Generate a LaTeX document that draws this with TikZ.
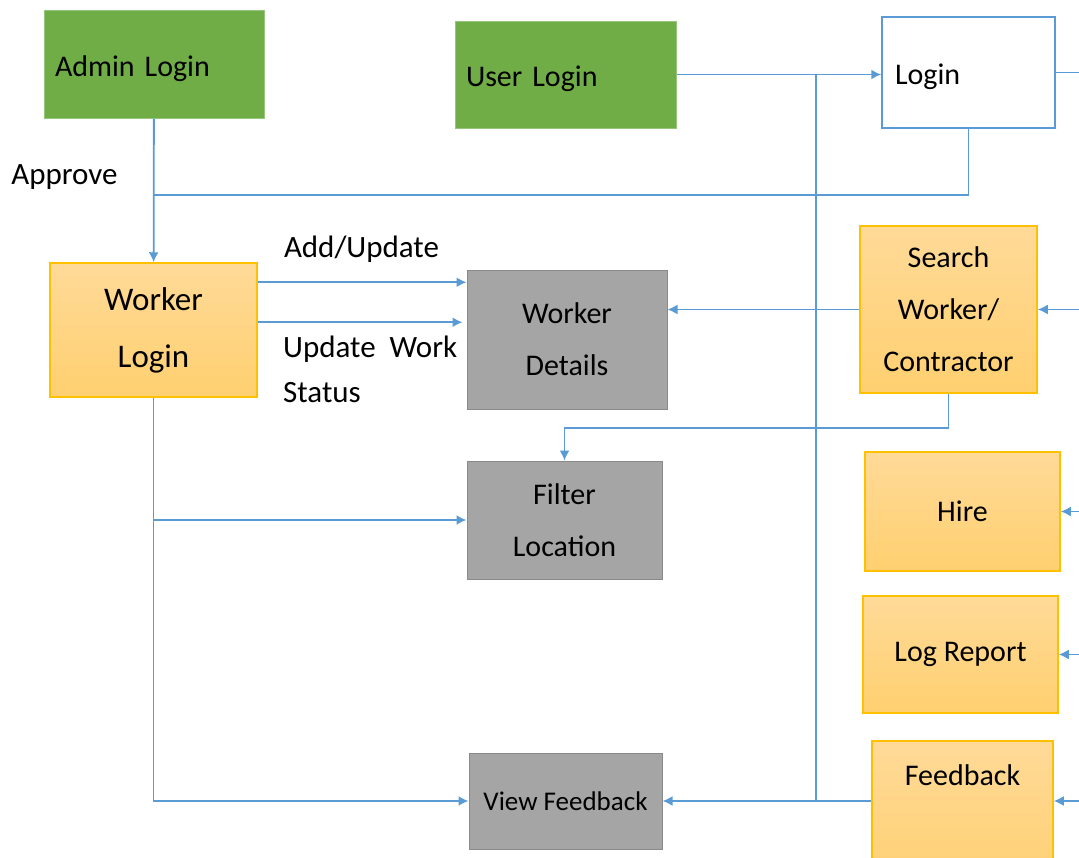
\documentclass[tikz,border=0pt]{standalone}
\usepackage{fontspec}
\setmainfont{Carlito}
\usetikzlibrary{arrows.meta}

\definecolor{linkblue}{HTML}{5B9BD5}
\definecolor{admgreen}{HTML}{70AD47}
\definecolor{admedge}{HTML}{94C77A}
\definecolor{wkedge}{HTML}{FFC000}
\definecolor{wktop}{HTML}{FFDA98}
\definecolor{wkbot}{HTML}{FFD070}
\definecolor{detgray}{HTML}{A5A5A5}
\definecolor{detedge}{HTML}{8A8A8A}

\begin{document}
\begin{tikzpicture}[x=1pt,y=-1pt,
    every node/.style={font=\fontsize{30}{52}\selectfont},
    line/.style={draw=linkblue,line width=1.8pt},
    link/.style={line,-{Latex[length=10pt,width=10pt]}},
    greenbox/.style={draw=admedge,line width=1pt,fill=admgreen,inner xsep=11pt,align=left,text height=30pt,text depth=6pt},
    loginbox/.style={draw=linkblue,line width=1.5pt,fill=white,inner xsep=13pt,align=left,text height=30pt,text depth=6pt},
    orangebox/.style={draw=wkedge,line width=1.5pt,top color=wktop,bottom color=wkbot,align=center},
    graybox/.style={draw=detedge,line width=1pt,fill=detgray,align=center},
    label/.style={font=\fontsize{31}{45}\selectfont}]
  \useasboundingbox (0,0) rectangle (1079,857);

  % login boxes along the top
  \node[greenbox,text width=198pt,minimum height=108pt] (admin) at (154,64) {Admin Login};
  \node[greenbox,text width=199pt,minimum height=107pt] (user) at (565.5,74.5) {User Login};
  \node[loginbox,text width=147pt,minimum height=111pt] (login) at (968.5,72.5) {Login};

  % worker side
  \node[orangebox,minimum width=207pt,minimum height=134pt,font=\fontsize{33}{57}\selectfont] (worker) at (153.5,330) {Worker\\Login};
  \node[graybox,minimum width=200pt,minimum height=139pt] (details) at (567,339.5) {Worker\\Details};
  \node[graybox,minimum width=195pt,minimum height=118pt] (filter) at (564.5,520) {Filter\\Location};
  \node[graybox,minimum width=193pt,minimum height=96pt,font=\fontsize{27}{40}\selectfont] (view) at (565.5,801) {View Feedback};

  % user side
  \node[orangebox,minimum width=177pt,minimum height=167pt] (search) at (948.5,309.5) {Search\\Worker/\\Contractor};
  \node[orangebox,minimum width=195pt,minimum height=119pt] (hire) at (962.5,511.5) {Hire};
  \node[orangebox,minimum width=195pt,minimum height=117pt] (logrep) at (960.5,654.5) {Log Report};
  \node[orangebox,minimum width=181pt,anchor=north,inner ysep=0pt,text height=45pt,text depth=110pt] (feedback) at (962.5,740) {Feedback};

  % labels
  \node[label] (approve) at (64.5,177) {Approve};
  \node[label] (addupd) at (361.5,249) {Add/Update};
  \node[label,anchor=north west,inner sep=0pt,text width=174pt,align=justify] (updwork) at (283,336) {Update Work Status};

  \coordinate (join) at (154,195);
  \coordinate (busTop) at (816,74);
  \coordinate (busBot) at (816,800);
  \coordinate (edge) at (1079,0);

  % admin approves the worker
  \draw[link] (admin) -- (worker);
  \draw[line] (login.south) |- (join);

  % user login
  \draw[link] (user.east) -- (user.east -| login.west);
  \draw[line] (busTop) -- (busBot);
  \draw[line] (login.east) -- (login.east -| edge);

  % worker actions
  \draw[link] ([yshift=-20pt]worker.north east) -- ([yshift=-20pt]worker.north east -| details.west);
  \draw[link] ([yshift=-60pt]worker.north east) -- ([yshift=-60pt,xshift=-4pt]worker.north east -| details.west);
  \draw[link] (worker.south) |- (view.west);
  \draw[link] (worker.south |- filter.west) -- (filter.west);

  % search results
  \draw[link] (search.west) -- (search.west -| details.east);
  \draw[link] (search.south) -- ++(0,34) -| (filter.north);
  \draw[link] (feedback.west |- view.east) -- (view.east);

  % incoming from the right
  \draw[link] (edge |- search.east) -- (search.east);
  \draw[link] (edge |- hire.east) -- (hire.east);
  \draw[link] (edge |- logrep.east) -- (logrep.east);
  \draw[link] (edge |- view.east) -- (feedback.east |- view.east);
\end{tikzpicture}
\end{document}
